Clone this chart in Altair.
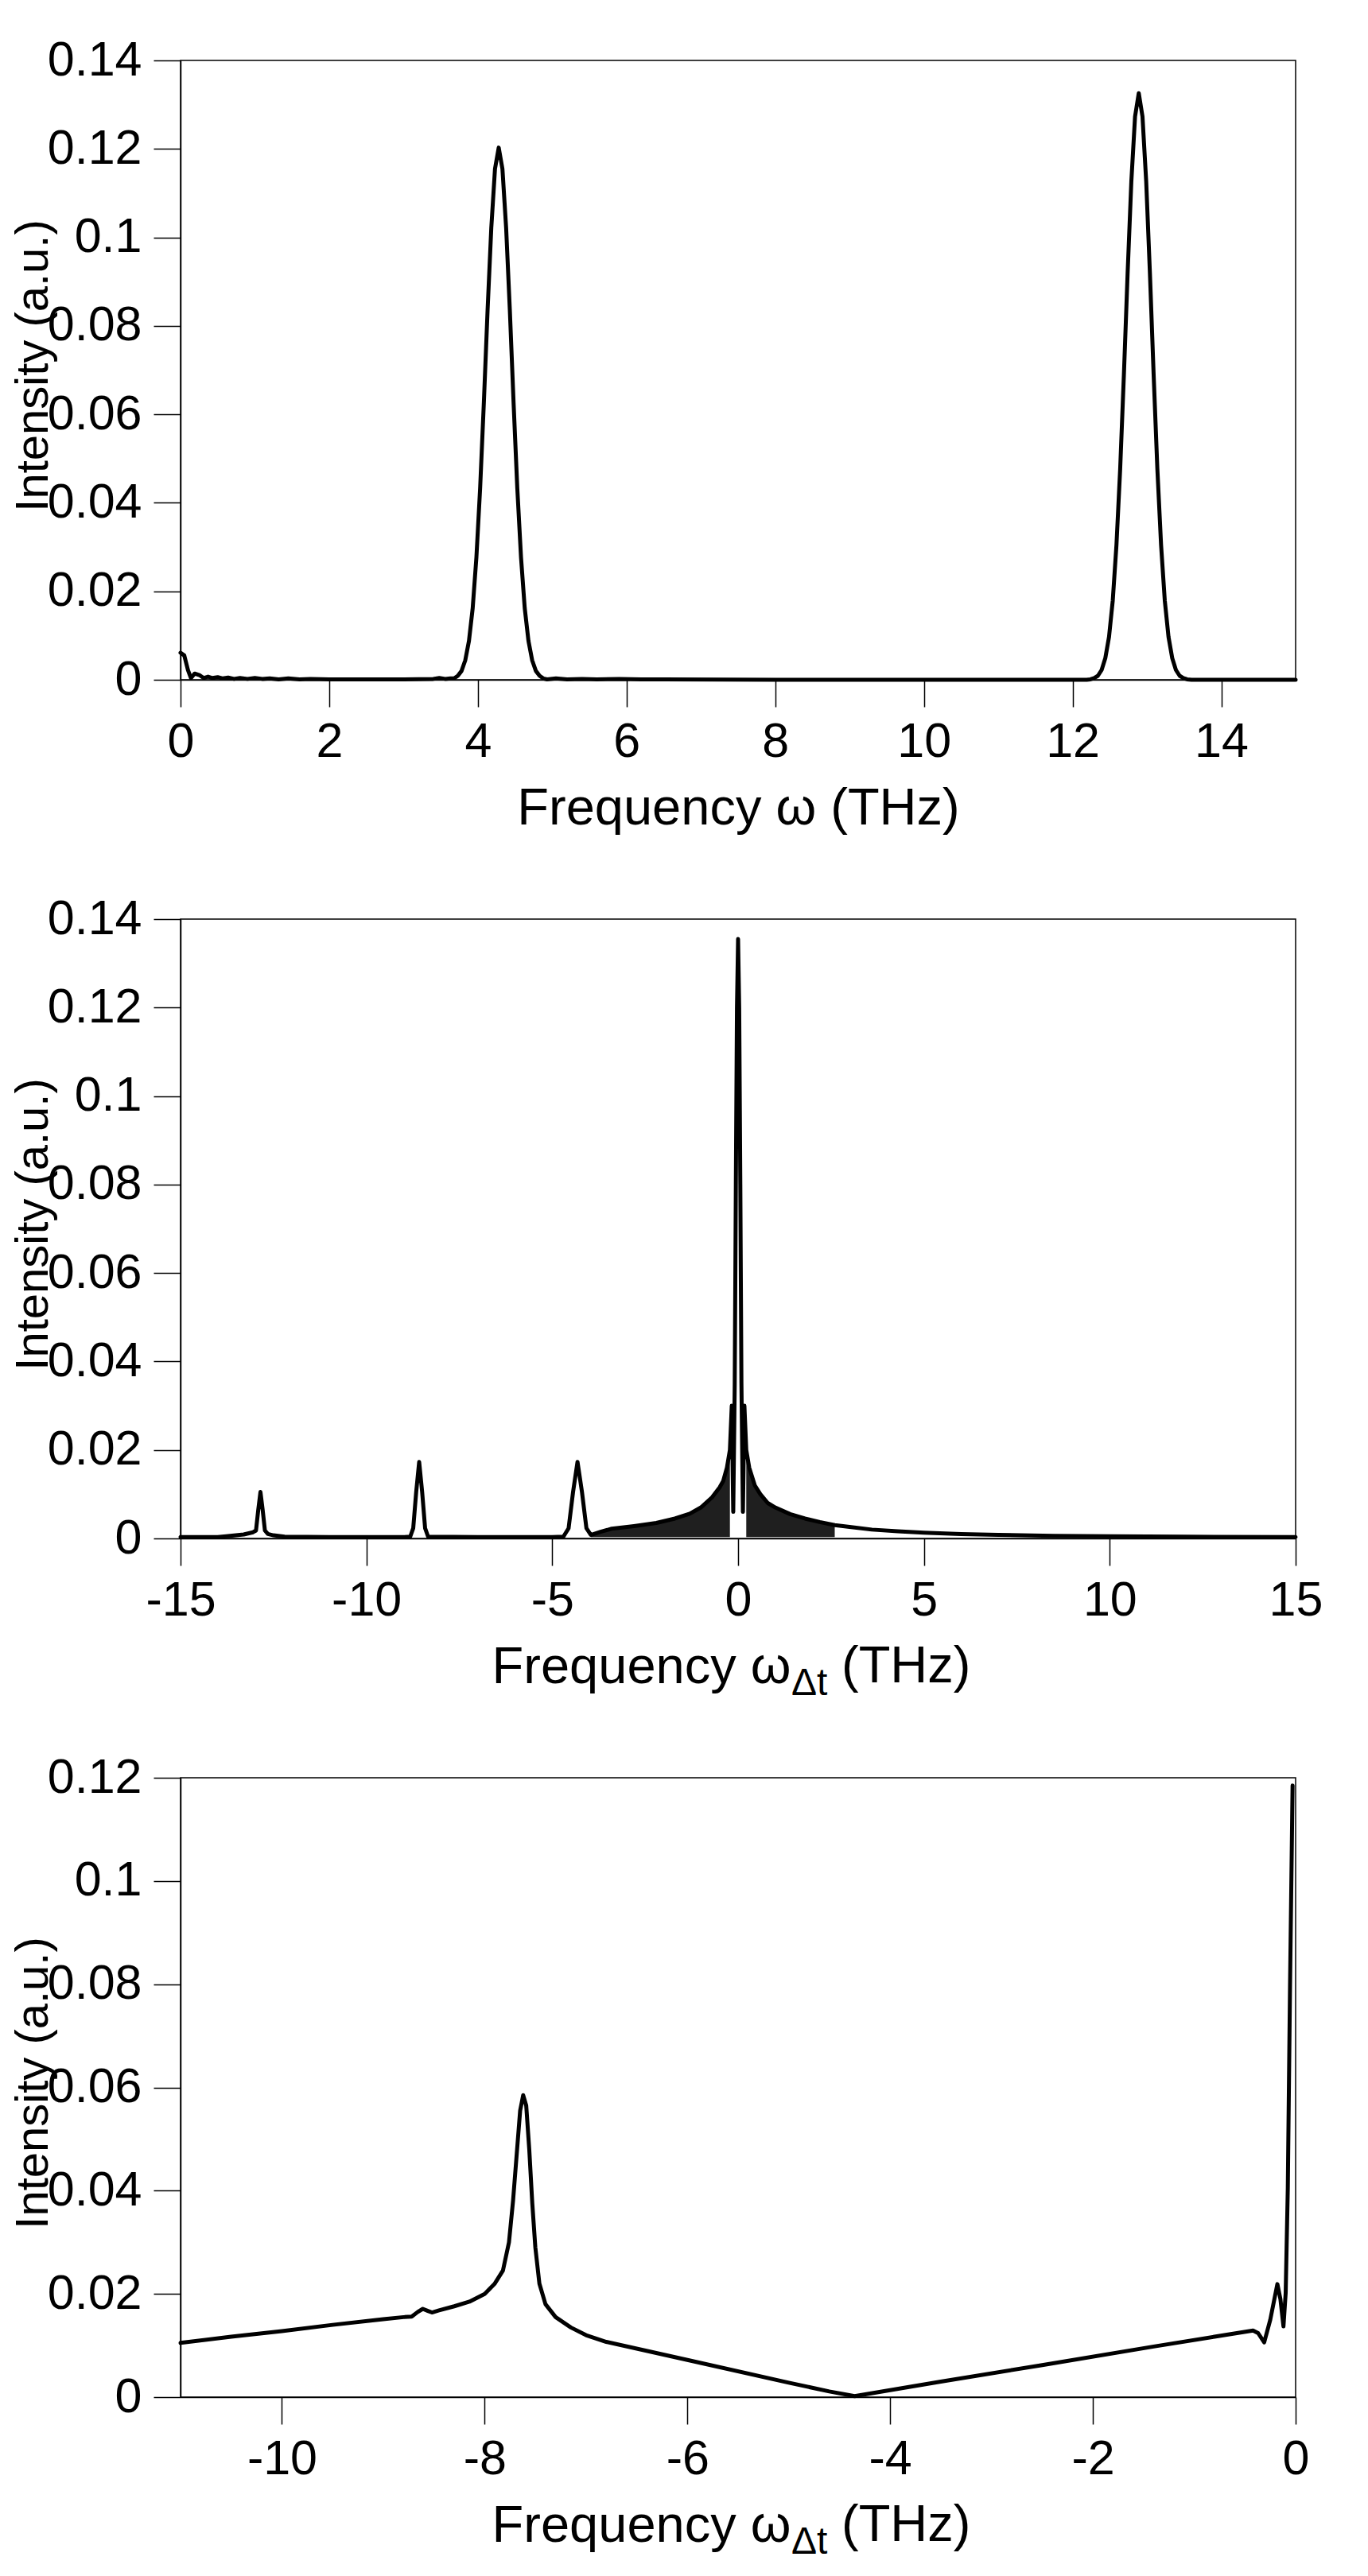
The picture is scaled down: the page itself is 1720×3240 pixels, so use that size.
import altair as alt
import pandas as pd

FONT = "Liberation Sans"
W, H = 1402, 779

# ---------------- Panel 1: spectrum vs frequency omega ----------------
a_freq = [0.00, 0.05, 0.10, 0.14, 0.19, 0.26, 0.31, 0.37, 0.43, 0.50, 0.57, 0.64,
          0.72, 0.80, 0.90, 1.00, 1.10, 1.20, 1.32, 1.45, 1.60, 1.75, 2.00, 2.50,
          3.00, 3.40, 3.48, 3.56, 3.63, 3.68, 3.73, 3.78, 3.83, 3.88, 3.93, 3.98,
          4.03, 4.08, 4.13, 4.18, 4.23, 4.28, 4.33, 4.38, 4.43, 4.48, 4.53, 4.58,
          4.63, 4.68, 4.73, 4.78, 4.83, 4.88, 4.93, 5.05, 5.20, 5.40, 5.60, 5.90,
          6.20, 6.50, 8.00, 10.00, 12.00, 12.19, 12.24, 12.29, 12.34, 12.39, 12.44,
          12.49, 12.54, 12.59, 12.64, 12.69, 12.74, 12.79, 12.84, 12.89, 12.94,
          12.99, 13.04, 13.09, 13.14, 13.19, 13.24, 13.29, 13.34, 13.39, 13.44,
          13.49, 13.54, 13.60, 15.00]
a_int = [0.0061, 0.0055, 0.0022, 0.0004, 0.0014, 0.0010, 0.0004, 0.0007, 0.0004, 0.0006,
         0.0003, 0.0005, 0.0002, 0.0004, 0.0002, 0.0004, 0.0002, 0.0003, 0.0001, 0.0003,
         0.0001, 0.0002, 0.0001, 0.0001, 0.0001, 0.0002, 0.0004, 0.0002, 0.0003, 0.0003,
         0.0009, 0.0020, 0.0044, 0.0088, 0.0162, 0.0277, 0.0433, 0.0626, 0.0834, 0.1021,
         0.1155, 0.1203, 0.1155, 0.1021, 0.0834, 0.0626, 0.0433, 0.0277, 0.0162, 0.0088,
         0.0044, 0.0020, 0.0009, 0.0003, 0.0001, 0.0003, 0.0001, 0.0002, 0.0001, 0.0002,
         0.0001, 0.0001, 0.0000, 0.0000, 0.0000, 0.0000, 0.0001, 0.0004, 0.0009, 0.0022,
         0.0049, 0.0097, 0.0179, 0.0305, 0.0477, 0.0690, 0.0919, 0.1126, 0.1273, 0.1326,
         0.1273, 0.1126, 0.0919, 0.0690, 0.0477, 0.0305, 0.0179, 0.0097, 0.0049, 0.0022,
         0.0009, 0.0004, 0.0001, 0.0000, 0.0000]

# ---------------- Panel 2: spectrum vs omega_dt (-15..15) ----------------
b_freq = [-15.00, -14.00, -13.77, -13.30, -13.05, -12.97, -12.91, -12.85, -12.79, -12.73,
          -12.65, -12.50, -12.20, -11.00, -9.00, -8.82, -8.74, -8.66, -8.58, -8.50,
          -8.42, -8.34, -7.00, -5.00, -4.70, -4.56, -4.44, -4.32, -4.20, -4.08,
          -3.96, -3.70, -3.40, -2.80, -2.20, -1.70, -1.30, -1.00, -0.70, -0.50,
          -0.40, -0.30, -0.22, -0.17, -0.13, -0.09, -0.06, -0.03, 0.00, 0.03,
          0.06, 0.09, 0.13, 0.17, 0.22, 0.30, 0.45, 0.60, 0.80, 1.00,
          1.40, 1.80, 2.20, 2.60, 3.00, 3.60, 4.30, 5.00, 6.00, 7.00,
          8.50, 10.00, 12.00, 15.00]
b_int = [0.0003, 0.0003, 0.0005, 0.0009, 0.0014, 0.0018, 0.0064, 0.0105, 0.0064, 0.0018,
         0.0010, 0.0007, 0.0004, 0.0003, 0.0003, 0.0004, 0.0023, 0.0105, 0.0173, 0.0105,
         0.0023, 0.0004, 0.0003, 0.0003, 0.0004, 0.0023, 0.0105, 0.0173, 0.0105, 0.0023,
         0.0008, 0.0015, 0.0022, 0.0028, 0.0035, 0.0045, 0.0056, 0.0070, 0.0093, 0.0115,
         0.0130, 0.0160, 0.0200, 0.0300, 0.0060, 0.0350, 0.0800, 0.1200, 0.1355, 0.1200,
         0.0800, 0.0350, 0.0060, 0.0300, 0.0200, 0.0160, 0.0120, 0.0100, 0.0080, 0.0070,
         0.0055, 0.0045, 0.0037, 0.0030, 0.0026, 0.0020, 0.0016, 0.0013, 0.0010, 0.0008,
         0.0006, 0.0005, 0.0004, 0.0003]

# dense ringing band (drawn as a filled band between these envelopes)
b_band_freq = [-3.96, -3.70, -3.40, -2.80, -2.20, -1.70, -1.30, -1.00, -0.70, -0.50,
               -0.40, -0.30, -0.22,
               0.22, 0.30, 0.45, 0.60, 0.80, 1.00, 1.40, 1.80, 2.20, 2.60]
b_band_hi = [0.0008, 0.0015, 0.0022, 0.0028, 0.0035, 0.0045, 0.0056, 0.0070, 0.0093, 0.0115,
             0.0130, 0.0160, 0.0200,
             0.0200, 0.0160, 0.0120, 0.0100, 0.0080, 0.0070, 0.0055, 0.0045, 0.0037, 0.0030]
b_band_lo = [0.0003] * 23
b_band_side = ["left"] * 13 + ["right"] * 10

# ---------------- Panel 3: zoom on negative omega_dt ----------------
c_freq = [-11.00, -10.50, -10.00, -9.50, -9.00, -8.80, -8.72, -8.66, -8.61, -8.56,
          -8.52, -8.45, -8.30, -8.15, -8.00, -7.90, -7.82, -7.76, -7.72, -7.68,
          -7.65, -7.62, -7.59, -7.56, -7.53, -7.50, -7.46, -7.40, -7.30, -7.15,
          -7.00, -6.80, -6.00, -5.00, -4.60, -4.35, -3.50, -2.50, -1.40, -0.80,
          -0.42, -0.37, -0.31, -0.25, -0.18, -0.15, -0.12, -0.098, -0.077, -0.055,
          -0.03]
c_int = [0.0105, 0.0117, 0.0128, 0.0140, 0.0151, 0.0155, 0.0156, 0.0165, 0.0171, 0.0167,
         0.0164, 0.0168, 0.0176, 0.0185, 0.0200, 0.0220, 0.0245, 0.0300, 0.0380, 0.0480,
         0.0555, 0.0585, 0.0565, 0.0480, 0.0375, 0.0290, 0.0220, 0.0180, 0.0155, 0.0135,
         0.0120, 0.0107, 0.0072, 0.0028, 0.0011, 0.0002, 0.0030, 0.0062, 0.0098, 0.0117,
         0.0129, 0.0124, 0.0106, 0.0150, 0.0219, 0.0190, 0.0137, 0.0202, 0.0406, 0.0800,
         0.1185]

# ticks and texts
a_xticks = [0, 2, 4, 6, 8, 10, 12, 14]
b_xticks = [-15, -10, -5, 0, 5, 10, 15]
c_xticks = [-10, -8, -6, -4, -2, 0]
ab_yticks = [0, 0.02, 0.04, 0.06, 0.08, 0.1, 0.12, 0.14]
c_yticks = [0, 0.02, 0.04, 0.06, 0.08, 0.1, 0.12]
y_title = "Intensity (a.u.)"
a_xtitle = "Frequency \u03c9 (THz)"
bc_xtitle = "Frequency \u03c9"
bc_xtitle_sub = "\u0394t"
bc_xtitle_unit = "(THz)"

TITLE_Y = 181          # baseline of x title below the plot
Y_TITLE_MID = 383.5    # centre of the y title from the plot top


def x_enc(domain, ticks, title, align="center", tx=None):
    kw = dict(values=ticks, title=title, titleY=TITLE_Y, titleBaseline="alphabetic",
              labelExpr="datum.value + ''", labelFlush=False, labelPadding=14,
              titleAlign=align)
    if tx is not None:
        kw["titleX"] = tx
    return alt.X("f:Q", scale=alt.Scale(domain=domain, nice=False, zero=False),
                 axis=alt.Axis(**kw))


def y_enc(domain, ticks):
    return alt.Y("v:Q", scale=alt.Scale(domain=domain, nice=False),
                 axis=alt.Axis(values=ticks, title=y_title, titleX=-167.7, titleY=Y_TITLE_MID,
                               titleAngle=270, titleBaseline="alphabetic", titleAlign="center",
                               labelExpr="datum.value + ''", labelPadding=15))


line_style = dict(color="black", strokeWidth=5, strokeJoin="round", strokeCap="round")

df_a = pd.DataFrame({"f": a_freq, "v": a_int})
df_b = pd.DataFrame({"f": b_freq, "v": b_int})
df_band = pd.DataFrame({"f": b_band_freq, "v": b_band_hi, "v2": b_band_lo, "side": b_band_side})
df_c = pd.DataFrame({"f": c_freq, "v": c_int})
df_sub = pd.DataFrame({"s": [bc_xtitle_sub]})
df_unit = pd.DataFrame({"s": [bc_xtitle_unit]})

p1 = alt.Chart(df_a).mark_line(**line_style).encode(
    x=x_enc([0, 15], a_xticks, a_xtitle),
    y=y_enc([0, 0.14], ab_yticks),
).properties(width=W, height=H)

# subscript and unit that complete the axis title "Frequency ω_Δt (THz)"
sub = alt.Chart(df_sub).mark_text(align="left", baseline="alphabetic", font=FONT,
                                  fontSize=48, color="black").encode(
    x=alt.value(768), y=alt.value(H + TITLE_Y + 16), text="s:N")
unit = alt.Chart(df_unit).mark_text(align="left", baseline="alphabetic", font=FONT,
                                    fontSize=65, color="black").encode(
    x=alt.value(831), y=alt.value(H + TITLE_Y), text="s:N")

band = alt.Chart(df_band).mark_area(color="black", opacity=0.88).encode(
    x=x_enc([-15, 15], b_xticks, bc_xtitle, "right", 767),
    y=y_enc([0, 0.14], ab_yticks),
    y2="v2:Q",
    detail="side:N",
)
line_b = alt.Chart(df_b).mark_line(**line_style).encode(
    x=x_enc([-15, 15], b_xticks, bc_xtitle, "right", 767),
    y=y_enc([0, 0.14], ab_yticks),
)
p2 = alt.layer(band, line_b, sub, unit).properties(width=W, height=H)

line_c = alt.Chart(df_c).mark_line(**line_style).encode(
    x=x_enc([-11, 0], c_xticks, bc_xtitle, "right", 767),
    y=y_enc([0, 0.12], c_yticks),
)
p3 = alt.layer(line_c, sub, unit).properties(width=W, height=H)

chart = alt.vconcat(p1, p2, p3, spacing=301, bounds="flush").properties(
    padding={"left": 4, "top": 36, "right": 20, "bottom": 10},
    background="white",
).configure_axis(
    domainColor="black", domainWidth=1.5, tickColor="black", tickWidth=1.5, tickSize=34,
    labelFont=FONT, labelFontSize=61, labelColor="black",
    titleFont=FONT, titleFontWeight="normal", titleColor="black", grid=False,
).configure_axisX(titleFontSize=65).configure_axisY(titleFontSize=58).configure_view(
    stroke="black", strokeWidth=1.5
)

chart.save("out.html", embed_options={"renderer": "svg", "actions": False})
